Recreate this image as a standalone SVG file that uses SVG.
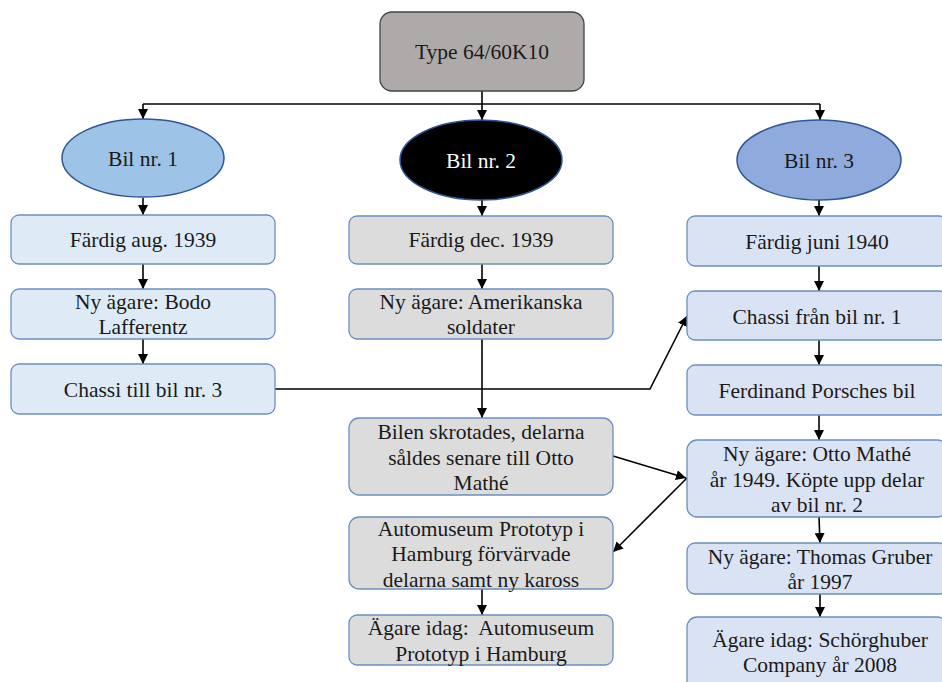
<svg xmlns="http://www.w3.org/2000/svg" width="942" height="682" viewBox="0 0 942 682">
<defs>
<marker id="ah" viewBox="0 0 10 10" refX="10" refY="5" markerWidth="10" markerHeight="10" markerUnits="userSpaceOnUse" orient="auto">
<path d="M0,0 L10,5 L0,10 z" fill="#000"/>
</marker>
</defs>
<style>
text{font-family:"Liberation Serif","Times New Roman",serif;font-size:21.5px;fill:#1a1a1a;text-anchor:middle;dominant-baseline:central}
.l{fill:#deebf7;stroke:#6c8ebf;stroke-width:1.3}
.m{fill:#dcdcdc;stroke:#6c8ebf;stroke-width:1.3}
.r{fill:#dae3f3;stroke:#6c8ebf;stroke-width:1.3}
.c{fill:none;stroke:#000;stroke-width:1.6}
.a{marker-end:url(#ah)}
</style>
<rect width="942" height="682" fill="#fff"/>
<g id="connectors">
<path class="c" d="M482,91 V104"/>
<path class="c" d="M143,104 H820"/>
<path class="c a" d="M143,104 V119"/>
<path class="c a" d="M482,104 V120"/>
<path class="c a" d="M820,104 V120"/>
<path class="c a" d="M143,198 V215"/>
<path class="c a" d="M482,200 V216"/>
<path class="c a" d="M819,200 V216"/>
<path class="c a" d="M143,264 V289"/>
<path class="c a" d="M143,339 V364"/>
<path class="c a" d="M482,264 V289"/>
<path class="c a" d="M482,339 V418"/>
<path class="c a" d="M819,266 V291"/>
<path class="c a" d="M819,340 V365"/>
<path class="c a" d="M819,415 V440"/>
<path class="c a" d="M819,517 L820,543"/>
<path class="c a" d="M820,594 V617"/>
<path class="c a" d="M482,589 V615"/>
<path class="c a" d="M275,389 H650 L687,316"/>
<path class="c a" d="M613,456 L686,478"/>
<path class="c a" d="M687,478 L613,552"/>
</g>
<g id="top"><rect x="380" y="12" width="204" height="79" rx="12" fill="#aeaaaa" stroke="#444" stroke-width="1.3"/><text x="482" y="52">Type 64/60K10</text></g>
<g id="bil1"><ellipse cx="143" cy="158" rx="81" ry="39" fill="#9dc3e6" stroke="#2f5597" stroke-width="1.5"/><text x="143" y="159">Bil nr. 1</text></g>
<g id="bil2"><ellipse cx="481" cy="160" rx="81" ry="40" fill="#000" stroke="#2f5597" stroke-width="1.5"/><text x="481" y="161" style="fill:#fff">Bil nr. 2</text></g>
<g id="bil3"><ellipse cx="819" cy="160" rx="82" ry="40" fill="#8faadc" stroke="#2f5597" stroke-width="1.5"/><text x="819" y="161">Bil nr. 3</text></g>
<g id="l1"><rect class="l" x="11" y="215" width="264" height="49" rx="8"/><text x="143" y="240">Färdig aug. 1939</text></g>
<g id="l2"><rect class="l" x="11" y="289" width="264" height="50" rx="8"/><text x="143" y="302">Ny ägare: Bodo</text><text x="143" y="327">Lafferentz</text></g>
<g id="l3"><rect class="l" x="11" y="364" width="264" height="50" rx="8"/><text x="143" y="390">Chassi till bil nr. 3</text></g>
<g id="m1"><rect class="m" x="349" y="216" width="264" height="48" rx="8"/><text x="481" y="240">Färdig dec. 1939</text></g>
<g id="m2"><rect class="m" x="349" y="289" width="264" height="50" rx="8"/><text x="481" y="302">Ny ägare: Amerikanska</text><text x="481" y="327">soldater</text></g>
<g id="m3"><rect class="m" x="349" y="418" width="264" height="77" rx="10"/><text x="481" y="432">Bilen skrotades, delarna</text><text x="481" y="458">såldes senare till Otto</text><text x="481" y="483">Mathé</text></g>
<g id="m4"><rect class="m" x="349" y="517" width="264" height="72" rx="10"/><text x="481" y="529">Automuseum Prototyp i</text><text x="481" y="554">Hamburg förvärvade</text><text x="481" y="580">delarna samt ny kaross</text></g>
<g id="m5"><rect class="m" x="349" y="615" width="264" height="50" rx="8"/><text x="481" y="628" xml:space="preserve">Ägare idag:  Automuseum</text><text x="481" y="654">Prototyp i Hamburg</text></g>
<g id="r1"><rect class="r" x="687" y="216" width="260" height="50" rx="8"/><text x="817" y="242">Färdig juni 1940</text></g>
<g id="r2"><rect class="r" x="687" y="291" width="260" height="49" rx="8"/><text x="817" y="317">Chassi från bil nr. 1</text></g>
<g id="r3"><rect class="r" x="687" y="365" width="260" height="50" rx="8"/><text x="817" y="391">Ferdinand Porsches bil</text></g>
<g id="r4"><rect class="r" x="687" y="440" width="260" height="77" rx="10"/><text x="817" y="454">Ny ägare: Otto Mathé</text><text x="817" y="480">år 1949. Köpte upp delar</text><text x="817" y="505">av bil nr. 2</text></g>
<g id="r5"><rect class="r" x="687" y="543" width="260" height="51" rx="8"/><text x="820" y="557">Ny ägare: Thomas Gruber</text><text x="820" y="582">år 1997</text></g>
<g id="r6"><rect class="r" x="687" y="617" width="260" height="75" rx="10"/><text x="820" y="640">Ägare idag: Schörghuber</text><text x="820" y="665">Company år 2008</text></g>
</svg>
